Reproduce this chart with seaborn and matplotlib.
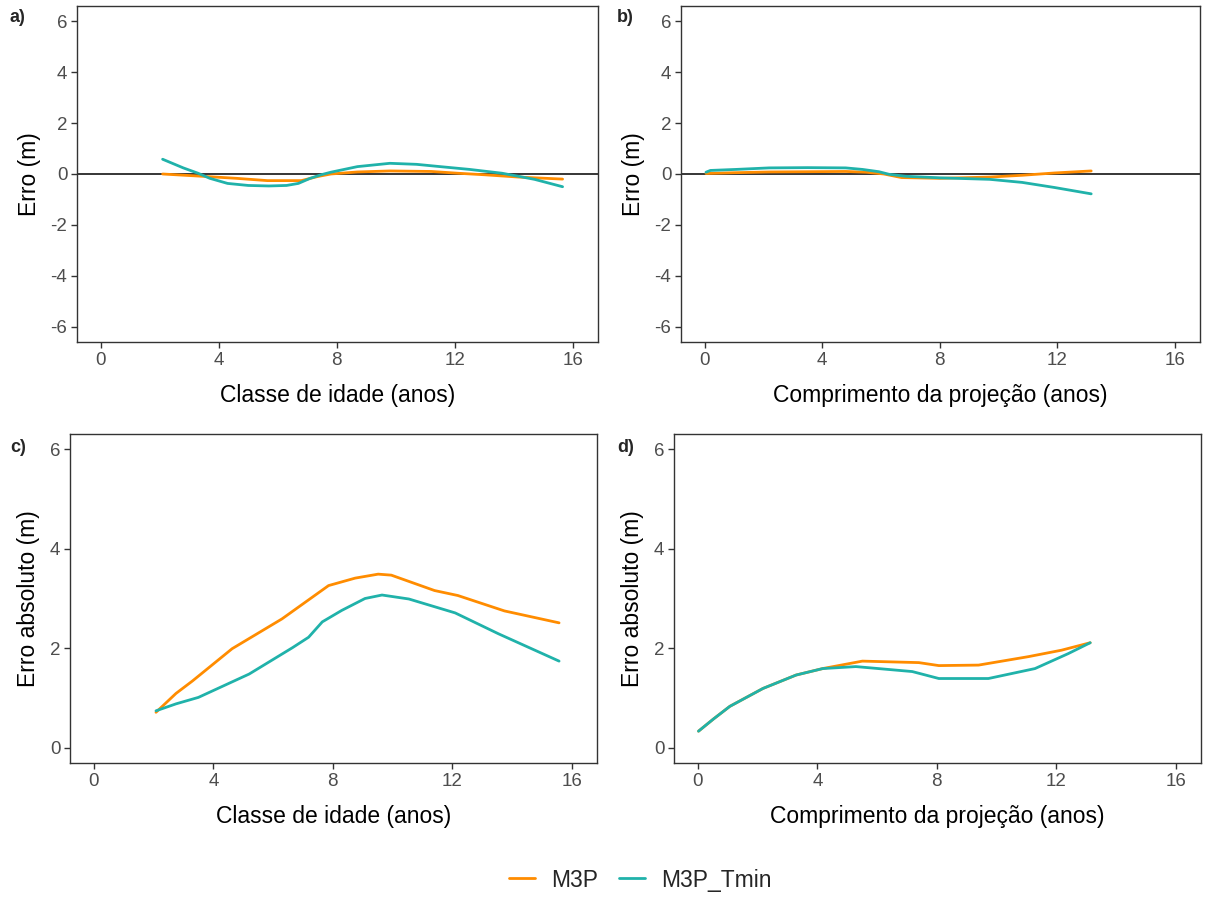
import numpy as np
import pandas as pd
import matplotlib
matplotlib.use("Agg")
import matplotlib.pyplot as plt
import seaborn as sns

# ── dados ──
a_m3p_x = [2.1, 3.3, 4.6, 5.65, 6.8, 7.35, 7.8, 8.7, 9.8, 11.2, 12.1, 13.0, 14.15, 15.65]
a_m3p_y = [0.0, -0.08, -0.17, -0.26, -0.26, -0.10, 0.0, 0.08, 0.12, 0.10, 0.03, -0.03, -0.12, -0.20]
a_tmin_x = [2.1, 2.8, 3.3, 3.7, 4.3, 5.0, 5.7, 6.3, 6.7, 7.1, 7.5, 7.8, 8.7, 9.8, 10.7, 11.5,
            12.5, 13.6, 14.7, 15.65]
a_tmin_y = [0.58, 0.24, 0.03, -0.17, -0.37, -0.45, -0.47, -0.45, -0.37, -0.17, -0.02, 0.07,
            0.29, 0.42, 0.38, 0.29, 0.18, 0.03, -0.21, -0.50]

b_m3p_x = [0.05, 1.0, 2.2, 3.5, 4.8, 5.5, 6.1, 6.7, 8.0, 9.7, 10.8, 11.9, 13.15]
b_m3p_y = [0.02, 0.05, 0.08, 0.09, 0.10, 0.07, 0.0, -0.14, -0.17, -0.12, -0.05, 0.04, 0.12]
b_tmin_x = [0.05, 0.2, 1.07, 2.2, 3.5, 4.8, 5.37, 5.93, 6.27, 6.84, 8.0, 9.7, 10.8, 11.9, 13.15]
b_tmin_y = [0.07, 0.14, 0.18, 0.24, 0.25, 0.24, 0.18, 0.09, -0.01, -0.09, -0.15, -0.21,
            -0.33, -0.53, -0.78]

c_m3p_x = [2.08, 2.75, 3.3, 4.63, 6.3, 7.86, 8.75, 9.52, 9.96, 11.41, 12.19, 13.75, 15.58]
c_m3p_y = [0.71, 1.09, 1.34, 1.99, 2.59, 3.26, 3.41, 3.49, 3.47, 3.16, 3.06, 2.75, 2.51]
c_tmin_x = [2.08, 2.75, 3.5, 5.2, 6.65, 7.19, 7.65, 8.3, 9.08, 9.65, 10.55, 12.1, 13.55, 15.58]
c_tmin_y = [0.74, 0.88, 1.01, 1.48, 2.01, 2.22, 2.53, 2.76, 3.0, 3.07, 2.99, 2.71, 2.29, 1.74]

d_m3p_x = [0.02, 0.51, 1.07, 2.18, 3.29, 4.18, 5.51, 7.4, 8.07, 9.4, 11.07, 12.18, 13.14]
d_m3p_y = [0.33, 0.57, 0.83, 1.19, 1.46, 1.59, 1.74, 1.71, 1.65, 1.66, 1.83, 1.96, 2.11]
d_tmin_x = [0.02, 0.51, 1.07, 2.18, 3.29, 4.18, 5.29, 7.18, 8.07, 9.73, 11.29, 12.4, 13.14]
d_tmin_y = [0.33, 0.57, 0.83, 1.19, 1.46, 1.59, 1.63, 1.53, 1.39, 1.39, 1.59, 1.89, 2.11]

modelos = ["M3P", "M3P_Tmin"]
cores = {"M3P": "#FF8C00", "M3P_Tmin": "#20B2AA"}
xticks = [0, 4, 8, 12, 16]


def longo(x1, y1, x2, y2):
    d1 = pd.DataFrame({"x": x1, "y": y1, "Modelo": modelos[0]})
    d2 = pd.DataFrame({"x": x2, "y": y2, "Modelo": modelos[1]})
    return pd.concat([d1, d2], ignore_index=True)


sns.set_theme(style="white")
plt.rcParams['font.family'] = ['Liberation Sans', 'DejaVu Sans']
plt.rcParams['axes.unicode_minus'] = False

W, H = 1205, 897
fig = plt.figure(figsize=(W / 100, H / 100), dpi=100)


def eixo(l, t, r, b):
    return fig.add_axes([l / W, 1 - b / H, (r - l) / W, (b - t) / H])


paineis = [
    (eixo(77, 6, 598, 342), longo(a_m3p_x, a_m3p_y, a_tmin_x, a_tmin_y),
     "Classe de idade (anos)", "Erro (m)", "a)", (10, 18)),
    (eixo(681, 6, 1200, 342), longo(b_m3p_x, b_m3p_y, b_tmin_x, b_tmin_y),
     "Comprimento da projeção (anos)", "Erro (m)", "b)", (617, 18)),
    (eixo(70, 434, 597, 763), longo(c_m3p_x, c_m3p_y, c_tmin_x, c_tmin_y),
     "Classe de idade (anos)", "Erro absoluto (m)", "c)", (10, 447)),
    (eixo(674, 434, 1201, 763), longo(d_m3p_x, d_m3p_y, d_tmin_x, d_tmin_y),
     "Comprimento da projeção (anos)", "Erro absoluto (m)", "d)", (617, 447)),
]

for i, (ax, df, xl, yl, letra, pos) in enumerate(paineis):
    if i < 2:
        ax.axhline(0, color="black", lw=1.1, zorder=1)
    sns.lineplot(data=df, x="x", y="y", hue="Modelo", palette=cores, ax=ax,
                 lw=2, legend=(i == 0), sort=False, zorder=3)
    ax.set_xlim(-0.8, 16.85)
    if i < 2:
        ax.set_ylim(-6.6, 6.6)
        ax.set_yticks([-6, -4, -2, 0, 2, 4, 6])
    else:
        ax.set_ylim(-0.31, 6.31)
        ax.set_yticks([0, 2, 4, 6])
    ax.set_xticks(xticks)
    ax.set_xlabel(xl, fontsize=16.5, color="black", labelpad=11)
    ax.set_ylabel(yl, fontsize=16.5, color="black", labelpad=7)
    ax.tick_params(axis="both", labelsize=13.5, labelcolor="#4D4D4D", color="#333333",
                   length=4, width=1, bottom=True, left=True, pad=3)
    for s in ax.spines.values():
        s.set_color("#333333")
        s.set_linewidth(1)
    fig.text(pos[0] / W, 1 - pos[1] / H, letra, fontsize=13, fontweight="bold",
             va="center", ha="left")

handles, labels = paineis[0][0].get_legend_handles_labels()
paineis[0][0].get_legend().remove()
fig.legend(handles, labels, loc="center", bbox_to_anchor=(640 / W, 1 - 880 / H), ncol=2,
           frameon=False, fontsize=16.5, handlelength=1.15, columnspacing=0.9,
           handletextpad=0.7)

fig.savefig("out.png", dpi=100)
